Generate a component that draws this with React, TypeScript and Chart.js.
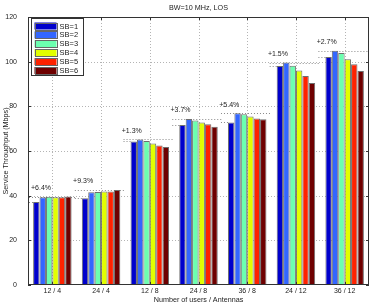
import React, { useEffect, useRef } from 'react';
import { Chart, registerables } from 'chart.js';

Chart.register(...registerables);

const categories = ['12 / 4', '24 / 4', '12 / 8', '24 / 8', '36 / 8', '24 / 12', '36 / 12'];
const seriesLabels = ['SB=1', 'SB=2', 'SB=3', 'SB=4', 'SB=5', 'SB=6'];
const sb1 = [37.2, 38.8, 64.3, 71.6, 72.8, 98.1, 102.1];
const sb2 = [39.3, 41.5, 65.2, 74.3, 76.9, 99.6, 104.9];
const sb3 = [39.5, 41.6, 64.5, 73.7, 76.4, 98.2, 103.9];
const sb4 = [39.3, 41.9, 63.4, 72.8, 75.4, 96.1, 101.1];
const sb5 = [39.3, 41.9, 62.5, 72.0, 74.6, 93.6, 98.8];
const sb6 = [39.6, 42.5, 61.8, 70.9, 74.2, 90.5, 95.8];
const gainLabels = ['+6.4%', '+9.3%', '+1.3%', '+3.7%', '+5.4%', '+1.5%', '+2.7%'];
const yTicks = [0, 20, 40, 60, 80, 100, 120];
const titleText = 'BW=10 MHz, LOS';
const xTitle = 'Number of users / Antennas';
const yTitle = 'Service Throughput (Mbps)';

const series = [sb1, sb2, sb3, sb4, sb5, sb6];
const colors = ['#0000cc', '#3366ff', '#6cffb0', '#e2ff00', '#ff2200', '#6e0000'];

const FONT = '"Liberation Sans", Arial, sans-serif';
const TXT = '#222';

const overlay = {
  id: 'overlay',
  beforeDatasetsDraw(chart: any) {
    const { ctx, chartArea: ca, scales } = chart;
    const x = scales.x, y = scales.y;
    const line = (x1: number, y1: number, x2: number, y2: number) => {
      ctx.beginPath();
      ctx.moveTo(x1, y1);
      ctx.lineTo(x2, y2);
      ctx.stroke();
    };
    ctx.save();
    ctx.lineWidth = 1;
    ctx.strokeStyle = '#b4b4b4';
    ctx.setLineDash([1, 2]);
    yTicks.forEach((v) => {
      if (v === yTicks[0] || v === yTicks[yTicks.length - 1]) return;
      const py = Math.round(y.getPixelForValue(v)) + 0.5;
      line(ca.left, py, ca.right, py);
    });
    categories.forEach((_c, i) => {
      const px = Math.round(x.getPixelForValue(i)) + 0.5;
      line(px, ca.top, px, ca.bottom);
    });
    // gain reference lines
    ctx.strokeStyle = '#8a8a8a';
    categories.forEach((_c, i) => {
      const first = chart.getDatasetMeta(0).data[i];
      const last = chart.getDatasetMeta(series.length - 1).data[i];
      const gl = first.x - first.width / 2;
      const gr = last.x + last.width / 2;
      const maxV = Math.max(...series.map((s) => s[i]));
      const pm = Math.round(y.getPixelForValue(maxV)) + 0.5;
      const p1 = Math.round(y.getPixelForValue(series[0][i])) + 0.5;
      const xs = Math.max(gl - 7, ca.left + 1);
      line(xs, pm, gr + 4, pm);
      line(xs, p1, gl, p1);
    });
    ctx.restore();
  },
  afterDatasetsDraw(chart: any) {
    const { ctx, chartArea: ca, scales } = chart;
    const x = scales.x, y = scales.y;
    ctx.save();
    // frame
    ctx.strokeStyle = '#333';
    ctx.lineWidth = 1;
    ctx.setLineDash([]);
    ctx.strokeRect(Math.round(ca.left) + 0.5, Math.round(ca.top) + 0.5,
      Math.round(ca.right - ca.left) - 1, Math.round(ca.bottom - ca.top) - 1);
    // inside ticks
    ctx.beginPath();
    yTicks.forEach((v) => {
      const py = Math.round(y.getPixelForValue(v)) + 0.5;
      ctx.moveTo(ca.left, py); ctx.lineTo(ca.left + 3, py);
      ctx.moveTo(ca.right, py); ctx.lineTo(ca.right - 3, py);
    });
    categories.forEach((_c, i) => {
      const px = Math.round(x.getPixelForValue(i)) + 0.5;
      ctx.moveTo(px, ca.bottom); ctx.lineTo(px, ca.bottom - 3);
      ctx.moveTo(px, ca.top); ctx.lineTo(px, ca.top + 3);
    });
    ctx.stroke();

    // x tick labels
    ctx.fillStyle = TXT;
    ctx.font = `7px ${FONT}`;
    ctx.textAlign = 'center';
    ctx.textBaseline = 'middle';
    categories.forEach((c, i) => {
      ctx.fillText(c, x.getPixelForValue(i), ca.bottom + 6.5);
    });

    // gain labels
    ctx.textAlign = 'left';
    categories.forEach((_c, i) => {
      const maxV = Math.max(...series.map((s) => s[i]));
      const pm = y.getPixelForValue(maxV);
      const cx = x.getPixelForValue(i);
      const lx = Math.max(cx - 28, ca.left + 3);
      ctx.fillText(gainLabels[i], lx, pm - 8.6);
    });

    // legend
    const lx = ca.left + 3.5, ly = ca.top + 1.5, lw = 52, lh = 57;
    ctx.fillStyle = '#fff';
    ctx.fillRect(lx, ly, lw, lh);
    ctx.strokeStyle = '#333';
    ctx.strokeRect(lx, ly, lw, lh);
    ctx.font = `7.5px ${FONT}`;
    seriesLabels.forEach((lab, k) => {
      const sy = ly + 4 + k * 8.9;
      ctx.fillStyle = colors[k];
      ctx.fillRect(lx + 3, sy, 22, 7);
      ctx.strokeStyle = '#666';
      ctx.strokeRect(Math.round(lx + 3) + 0.5, Math.round(sy) + 0.5, 22, 7);
      ctx.fillStyle = TXT;
      ctx.textAlign = 'left';
      ctx.textBaseline = 'middle';
      ctx.fillText(lab, lx + 28, sy + 4);
    });

    // title
    const cxm = (ca.left + ca.right) / 2;
    ctx.fillStyle = TXT;
    ctx.font = `7.2px ${FONT}`;
    ctx.textAlign = 'center';
    ctx.textBaseline = 'middle';
    ctx.fillText(titleText, cxm, 8);
    // x title
    ctx.fillText(xTitle, cxm, 300.5);
    // y title
    ctx.translate(6.5, (ca.top + ca.bottom) / 2);
    ctx.rotate(-Math.PI / 2);
    ctx.fillText(yTitle, 0, 0);
    ctx.restore();
  },
};

export default function App() {
  const ref = useRef<HTMLCanvasElement | null>(null);
  useEffect(() => {
    if (!ref.current) return;
    const chart = new Chart(ref.current, {
      type: 'bar',
      data: {
        labels: categories,
        datasets: series.map((s, k) => ({
          label: seriesLabels[k],
          data: s,
          backgroundColor: colors[k],
          borderColor: '#6e6e6e',
          borderWidth: 1,
          categoryPercentage: 0.79,
          barPercentage: 1.0,
        })),
      },
      options: {
        animation: false,
        responsive: false,
        devicePixelRatio: 1,
        layout: { padding: { top: 17, right: 5, left: 0, bottom: 0 } },
        plugins: {
          legend: { display: false },
          title: { display: false },
          tooltip: { enabled: false },
        },
        scales: {
          x: {
            type: 'category',
            grid: { display: false },
            border: { display: false },
            ticks: { display: false },
            afterFit: (s: any) => { s.height = 21; },
          },
          y: {
            min: 0,
            max: 120,
            grid: { display: false },
            border: { display: false },
            ticks: {
              stepSize: 20,
              color: TXT,
              font: { family: FONT, size: 7 },
              padding: 3,
            },
            afterFit: (s: any) => { s.width = 28; },
          },
        },
      },
      plugins: [overlay],
    } as any);
    return () => chart.destroy();
  }, []);
  return (
    <div style={{ position: 'fixed', left: 0, top: 0, width: 374, height: 306, background: '#fff' }}>
      <canvas ref={ref} width={374} height={306} style={{ width: 374, height: 306, display: 'block' }} />
    </div>
  );
}
